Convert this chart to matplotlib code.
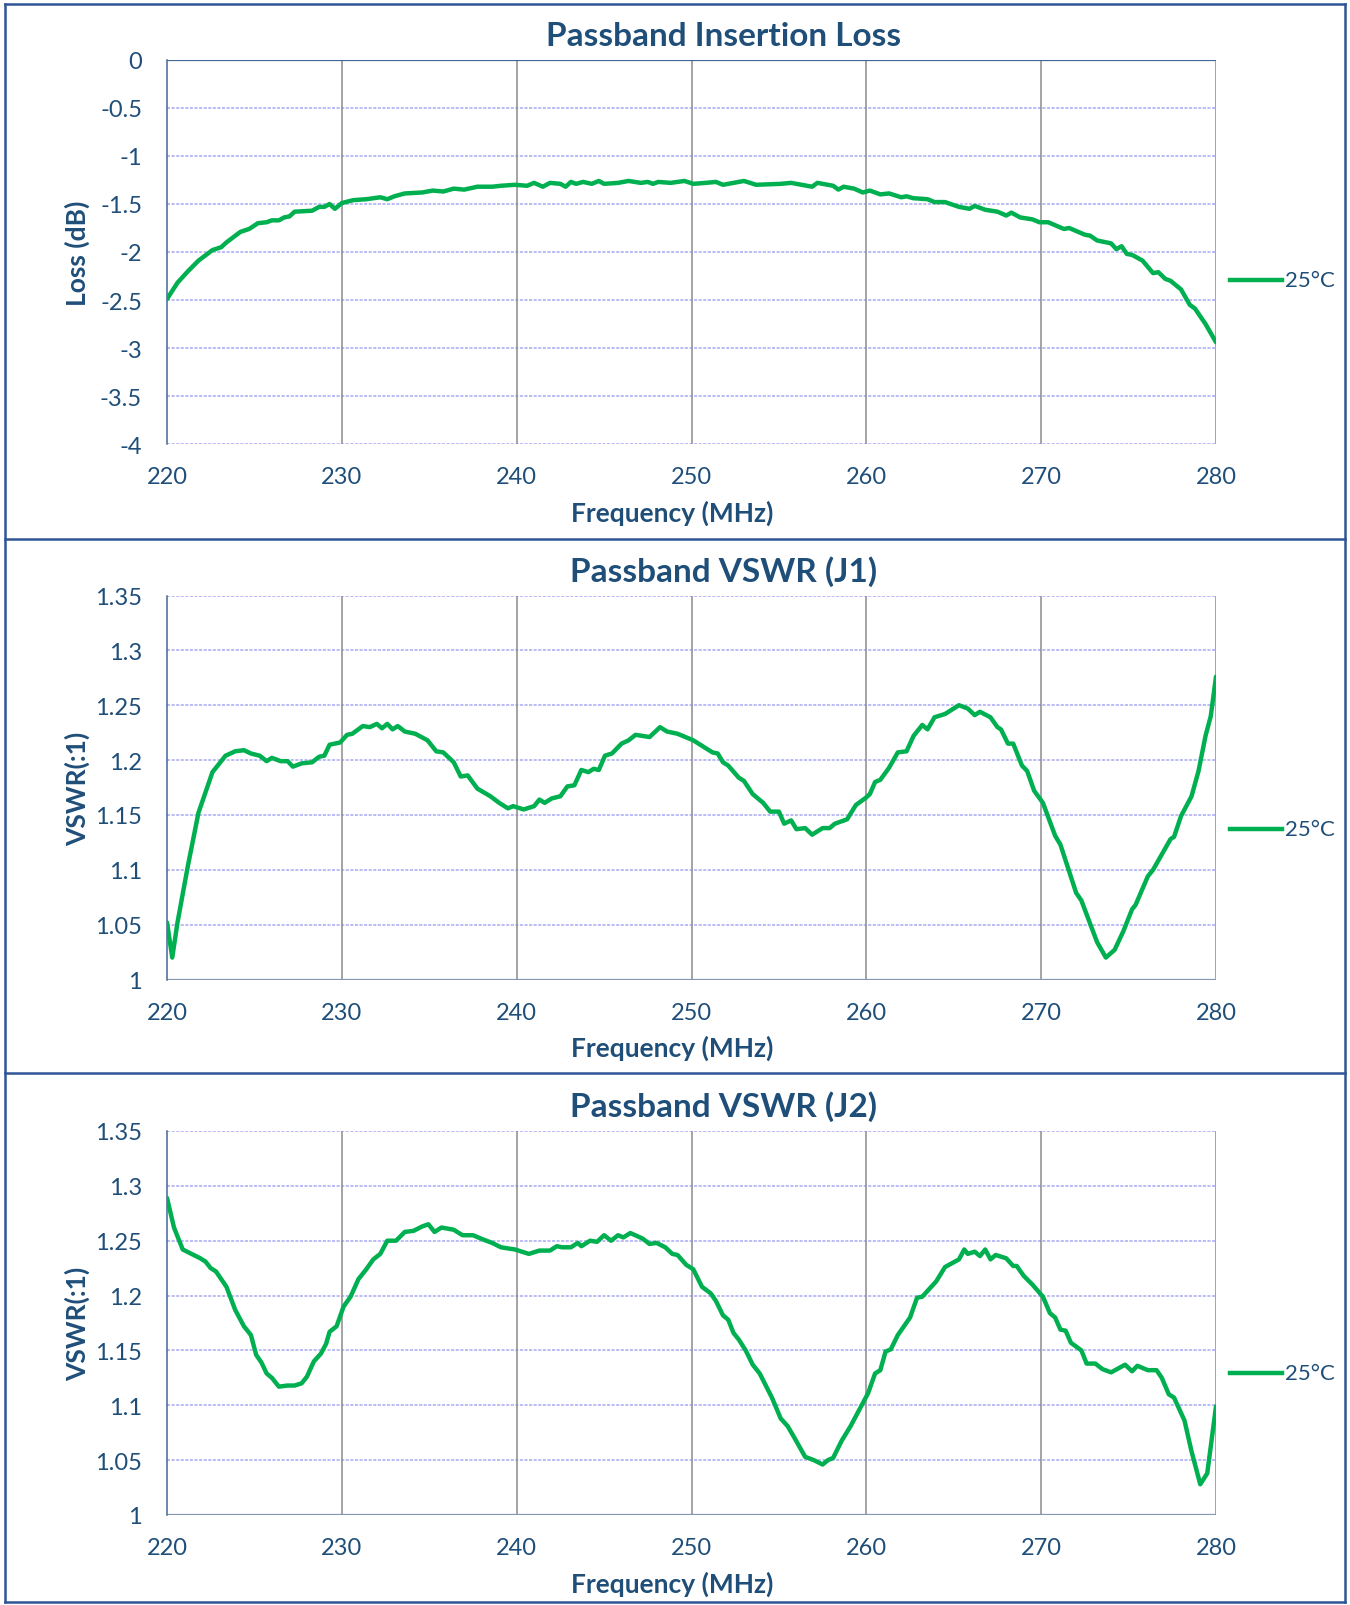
import matplotlib
matplotlib.use("Agg")
import matplotlib.pyplot as plt
from matplotlib.lines import Line2D

plt.rcParams['font.family'] = ['Lato', 'DejaVu Sans']

# ---- data ----
freq_ticks = [220, 230, 240, 250, 260, 270, 280]
freq_tick_labels = ['220', '230', '240', '250', '260', '270', '280']

il_ticks = [0, -0.5, -1, -1.5, -2, -2.5, -3, -3.5, -4]
il_tick_labels = ['0', '-0.5', '-1', '-1.5', '-2', '-2.5', '-3', '-3.5', '-4']

vswr_ticks = [1.35, 1.3, 1.25, 1.2, 1.15, 1.1, 1.05, 1.0]
vswr_tick_labels = ['1.35', '1.3', '1.25', '1.2', '1.15', '1.1', '1.05', '1']

il_freq = [220.0, 220.6, 221.2, 221.8, 222.6, 223.1, 223.4, 224.2, 224.7, 225.2,
           225.7, 226.0, 226.4, 226.7, 227.0, 227.3, 228.3, 228.7, 229.0, 229.3,
           229.6, 230.0, 230.65, 231.4, 232.2, 232.6, 233.0, 233.6, 234.6, 235.2,
           235.8, 236.4, 237.0, 237.75, 238.6, 239.1, 239.9, 240.6, 241.0, 241.5,
           241.9, 242.5, 242.8, 243.1, 243.4, 243.8, 244.3, 244.7, 245.0, 245.8,
           246.4, 247.1, 247.5, 247.8, 248.1, 248.8, 249.6, 250.1, 250.8, 251.4,
           251.8, 253.0, 253.7, 255.1, 255.7, 256.9, 257.2, 258.1, 258.4, 258.7,
           259.3, 259.8, 260.2, 260.8, 261.3, 262.0, 262.3, 262.7, 263.5, 263.9,
           264.5, 265.3, 265.9, 266.2, 266.8, 267.5, 268.0, 268.3, 268.8, 269.5,
           269.9, 270.4, 271.3, 271.6, 272.5, 272.8, 273.2, 274.0, 274.3, 274.6,
           274.9, 275.2, 275.8, 276.4, 276.7, 277.1, 277.4, 278.0, 278.5, 278.8,
           279.4, 280.0]
il_loss = [-2.49, -2.32, -2.20, -2.09, -1.98, -1.95, -1.90, -1.79, -1.76, -1.70,
           -1.69, -1.67, -1.67, -1.64, -1.63, -1.58, -1.57, -1.53, -1.53, -1.50,
           -1.55, -1.49, -1.46, -1.45, -1.43, -1.45, -1.42, -1.39, -1.38, -1.36,
           -1.37, -1.34, -1.35, -1.32, -1.32, -1.31, -1.30, -1.31, -1.28, -1.32,
           -1.28, -1.29, -1.32, -1.27, -1.29, -1.27, -1.29, -1.26, -1.29, -1.28,
           -1.26, -1.28, -1.27, -1.29, -1.27, -1.28, -1.26, -1.29, -1.28, -1.27,
           -1.30, -1.26, -1.30, -1.29, -1.28, -1.32, -1.28, -1.31, -1.35, -1.32,
           -1.34, -1.38, -1.36, -1.40, -1.39, -1.43, -1.42, -1.44, -1.45, -1.48,
           -1.48, -1.53, -1.55, -1.52, -1.56, -1.58, -1.62, -1.59, -1.64, -1.66,
           -1.69, -1.69, -1.76, -1.75, -1.82, -1.83, -1.88, -1.91, -1.97, -1.94,
           -2.02, -2.03, -2.09, -2.22, -2.21, -2.28, -2.30, -2.39, -2.55, -2.59,
           -2.75, -2.94]

j1_freq = [220.0, 220.3, 220.6, 221.2, 221.8, 222.6, 223.35, 223.9, 224.4, 224.8,
           225.3, 225.7, 226.0, 226.5, 226.9, 227.2, 227.7, 228.3, 228.7, 229.0,
           229.3, 229.9, 230.3, 230.6, 231.2, 231.6, 232.0, 232.3, 232.6, 232.9,
           233.2, 233.6, 234.2, 234.9, 235.4, 235.8, 236.4, 236.8, 237.2, 237.75,
           238.5, 239.0, 239.5, 239.8, 240.4, 241.0, 241.3, 241.6, 242.0, 242.5,
           242.9, 243.3, 243.7, 244.1, 244.4, 244.7, 245.05, 245.45, 246.0, 246.4,
           246.8, 247.6, 248.2, 248.6, 249.2, 250.1, 250.7, 251.2, 251.5, 251.8,
           252.1, 252.7, 253.0, 253.5, 254.1, 254.5, 255.0, 255.3, 255.7, 256.0,
           256.5, 256.9, 257.5, 257.9, 258.2, 258.9, 259.4, 260.0, 260.2, 260.5,
           260.8, 261.3, 261.8, 262.3, 262.7, 263.2, 263.5, 263.9, 264.5, 264.9,
           265.3, 265.8, 266.2, 266.5, 267.1, 267.5, 267.7, 268.1, 268.4, 268.9,
           269.2, 269.6, 270.1, 270.8, 271.1, 272.0, 272.3, 273.2, 273.7, 274.2,
           274.7, 275.2, 275.4, 276.1, 276.4, 277.4, 277.6, 278.0, 278.6, 279.0,
           279.4, 279.7, 280.0]
j1_vswr = [1.052, 1.020, 1.052, 1.104, 1.152, 1.189, 1.204, 1.208, 1.209, 1.206,
           1.204, 1.199, 1.202, 1.199, 1.199, 1.194, 1.197, 1.198, 1.203, 1.204,
           1.214, 1.216, 1.223, 1.224, 1.231, 1.230, 1.233, 1.229, 1.233, 1.228,
           1.231, 1.226, 1.224, 1.218, 1.208, 1.207, 1.198, 1.185, 1.186, 1.174,
           1.167, 1.161, 1.156, 1.158, 1.155, 1.158, 1.164, 1.161, 1.165, 1.167,
           1.176, 1.177, 1.191, 1.189, 1.192, 1.191, 1.204, 1.206, 1.215, 1.218,
           1.223, 1.221, 1.230, 1.226, 1.224, 1.218, 1.212, 1.207, 1.206, 1.198,
           1.195, 1.184, 1.181, 1.169, 1.161, 1.153, 1.153, 1.142, 1.145, 1.137,
           1.138, 1.132, 1.138, 1.138, 1.142, 1.146, 1.159, 1.166, 1.169, 1.180,
           1.182, 1.193, 1.207, 1.208, 1.222, 1.232, 1.228, 1.239, 1.242, 1.246,
           1.250, 1.247, 1.241, 1.244, 1.239, 1.230, 1.228, 1.215, 1.215, 1.195,
           1.190, 1.172, 1.161, 1.131, 1.123, 1.079, 1.072, 1.034, 1.020, 1.027,
           1.044, 1.064, 1.068, 1.094, 1.100, 1.128, 1.130, 1.149, 1.167, 1.190,
           1.222, 1.240, 1.276]

j2_freq = [220.0, 220.4, 220.9, 221.4, 221.9, 222.2, 222.5, 222.8, 223.1, 223.4,
           223.9, 224.4, 224.8, 225.1, 225.4, 225.7, 226.0, 226.4, 226.9, 227.3,
           227.7, 228.0, 228.4, 228.8, 229.1, 229.3, 229.7, 230.1, 230.5, 230.95,
           231.4, 231.8, 232.2, 232.6, 233.1, 233.6, 234.1, 234.6, 234.95, 235.3,
           235.7, 236.4, 236.9, 237.5, 238.1, 238.6, 239.1, 239.9, 240.3, 240.7,
           241.3, 241.9, 242.3, 242.6, 243.1, 243.5, 243.7, 244.2, 244.6, 245.0,
           245.4, 245.8, 246.1, 246.5, 247.2, 247.6, 248.0, 248.5, 248.9, 249.2,
           249.7, 250.1, 250.6, 251.1, 251.4, 251.8, 252.1, 252.4, 252.7, 253.1,
           253.5, 253.9, 254.6, 255.1, 255.5, 255.9, 256.5, 257.0, 257.5, 257.8,
           258.1, 258.6, 259.1, 259.6, 260.1, 260.5, 260.8, 261.1, 261.4, 261.8,
           262.5, 262.9, 263.2, 263.6, 264.0, 264.5, 265.3, 265.6, 265.8, 266.2,
           266.5, 266.8, 267.1, 267.4, 268.0, 268.4, 268.6, 269.0, 269.5, 270.1,
           270.5, 270.8, 271.1, 271.4, 271.7, 272.3, 272.6, 273.1, 273.5, 274.0,
           274.8, 275.2, 275.5, 276.1, 276.6, 276.9, 277.3, 277.6, 278.2, 278.6,
           279.1, 279.5, 280.0]
j2_vswr = [1.289, 1.262, 1.242, 1.238, 1.234, 1.231, 1.225, 1.222, 1.215, 1.208,
           1.187, 1.172, 1.164, 1.146, 1.139, 1.129, 1.125, 1.117, 1.118, 1.118,
           1.120, 1.126, 1.140, 1.147, 1.156, 1.167, 1.172, 1.190, 1.199, 1.215,
           1.224, 1.233, 1.238, 1.250, 1.250, 1.258, 1.259, 1.263, 1.265, 1.258,
           1.262, 1.260, 1.255, 1.255, 1.251, 1.248, 1.244, 1.242, 1.240, 1.238,
           1.241, 1.241, 1.245, 1.244, 1.244, 1.248, 1.245, 1.250, 1.249, 1.255,
           1.250, 1.255, 1.253, 1.257, 1.252, 1.247, 1.248, 1.244, 1.238, 1.237,
           1.228, 1.224, 1.208, 1.202, 1.195, 1.182, 1.178, 1.166, 1.160, 1.150,
           1.137, 1.129, 1.107, 1.088, 1.081, 1.070, 1.053, 1.050, 1.046, 1.050,
           1.052, 1.068, 1.081, 1.096, 1.111, 1.129, 1.132, 1.149, 1.151, 1.164,
           1.180, 1.198, 1.199, 1.206, 1.213, 1.226, 1.233, 1.242, 1.238, 1.240,
           1.236, 1.242, 1.233, 1.237, 1.234, 1.227, 1.227, 1.218, 1.210, 1.199,
           1.184, 1.180, 1.169, 1.168, 1.157, 1.150, 1.138, 1.138, 1.133, 1.130,
           1.137, 1.131, 1.136, 1.132, 1.132, 1.125, 1.110, 1.107, 1.086, 1.058,
           1.028, 1.038, 1.099]

series_label = '25°C'

# ---- styling ----
W, H = 1350, 1606
TXT = '#1F4E79'
GREEN = '#00B050'
FRAME = '#2F5597'


def fx(px):
    return px / W


def fy(py):
    return 1 - py / H


fig = plt.figure(figsize=(W / 100, H / 100), dpi=100)

# outer frame and separators
for y in (5, 1603):
    fig.add_artist(Line2D([fx(5), fx(1345)], [fy(y), fy(y)], color=FRAME, lw=1.8))
for x in (5, 1345):
    fig.add_artist(Line2D([fx(x), fx(x)], [fy(5), fy(1603)], color=FRAME, lw=1.8))
for y in (540, 1074):
    fig.add_artist(Line2D([fx(5), fx(1345)], [fy(y), fy(y)], color=FRAME, lw=1.8))

panels = [
    ('Passband Insertion Loss', 'Loss (dB)', il_freq, il_loss, il_ticks, il_tick_labels, (-4, 0), 281),
    ('Passband VSWR (J1)', 'VSWR(:1)', j1_freq, j1_vswr, vswr_ticks, vswr_tick_labels, (1.0, 1.35), 830),
    ('Passband VSWR (J2)', 'VSWR(:1)', j2_freq, j2_vswr, vswr_ticks, vswr_tick_labels, (1.0, 1.35), 1374),
]

for i, (title, ylabel, xs, ys, yt, ytl, ylim, leg_y) in enumerate(panels):
    off = 535.5 * i
    top, bottom = 61 + off, 445 + off
    ax = fig.add_axes([fx(167), fy(bottom), fx(1216 - 167), (bottom - top) / H])
    ax.set_xlim(220, 280)
    ax.set_ylim(*ylim)

    # gridlines
    for v in yt:
        ax.axhline(v, color='#A8A8F5', lw=1.1, ls=(0, (2, 1)), zorder=1)
    for v in freq_ticks[1:]:
        ax.axvline(v, color='#8C8C8C', lw=1.1, zorder=1)

    ax.plot(xs, ys, color=GREEN, lw=3.2, solid_joinstyle='round',
            solid_capstyle='round', zorder=3, label=series_label)

    for s in ax.spines.values():
        s.set_visible(False)
    ax.spines['left'].set_visible(True)
    ax.spines['left'].set_color('#44679A')
    ax.spines['left'].set_linewidth(1.1)
    # horizontal axis line sits where the value axis crosses zero / one
    axis_y = 0 if i == 0 else 1.0
    ax.axhline(axis_y, color='#8497B0' if i else '#44679A', lw=1.6, zorder=2)

    ax.set_xticks(freq_ticks)
    ax.set_xticklabels(freq_tick_labels)
    ax.set_yticks(yt)
    ax.set_yticklabels(ytl)
    ax.tick_params(length=0, labelsize=17, labelcolor=TXT)
    ax.tick_params(axis='x', pad=16)
    ax.tick_params(axis='y', pad=18)

    fig.text(fx(724), fy(36 + off), title, ha='center', va='center',
             fontsize=24, fontweight='bold', color=TXT)
    fig.text(fx(672), fy(513 + off), 'Frequency (MHz)', ha='center', va='center',
             fontsize=19, fontweight='bold', color=TXT)
    fig.text(fx(77), fy((top + bottom) / 2), ylabel, ha='center', va='center',
             rotation=90, fontsize=19, fontweight='bold', color=TXT)

    # legend entry
    fig.add_artist(Line2D([fx(1230), fx(1282)], [fy(leg_y), fy(leg_y)], color=GREEN, lw=3.2))
    fig.text(fx(1285), fy(leg_y), series_label, ha='left', va='center',
             fontsize=16, color=TXT)

fig.savefig('out.png', dpi=100, facecolor='white')
